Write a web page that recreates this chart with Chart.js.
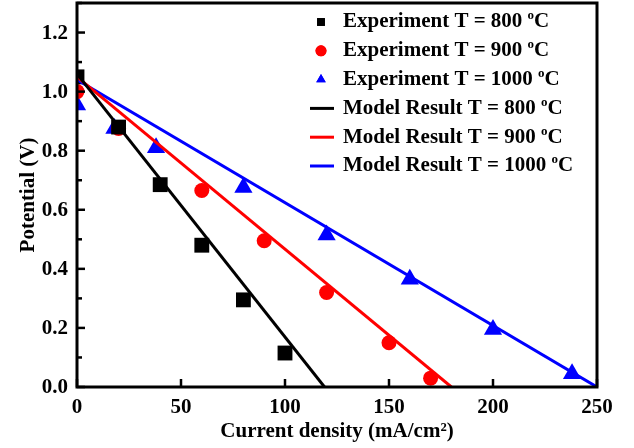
<!DOCTYPE html>
<html>
<head>
<meta charset="utf-8">
<script src="https://cdn.jsdelivr.net/npm/chart.js@4/dist/chart.umd.min.js"></script>
<style>
  html, body { margin: 0; padding: 0; background: #fff; }
  #wrap { width: 634px; height: 448px; }
</style>
</head>
<body>
<div id="wrap"><canvas id="polChart" width="634" height="448"></canvas></div>
<script>
// experimental points
const current800 = [0, 20, 40, 60, 80, 100];
const potential800 = [1.05, 0.88, 0.685, 0.48, 0.295, 0.115];
const current900 = [0, 20, 60, 90, 120, 150, 170];
const potential900 = [1.0, 0.875, 0.665, 0.495, 0.32, 0.15, 0.03];
const current1000 = [0, 18, 38, 80, 120, 160, 200, 238];
const potential1000 = [0.955, 0.875, 0.81, 0.675, 0.515, 0.365, 0.195, 0.045];

// model lines
const modelCurrent800 = [0, 119];
const modelPotential800 = [1.06, 0];
const modelCurrent900 = [0, 180];
const modelPotential900 = [1.05, 0];
const modelCurrent1000 = [0, 250];
const modelPotential1000 = [1.04, 0];

const temps = ['800', '900', '1000'];
const colors = ['#000000', '#ff0000', '#0000ff'];
const FONT = "'Liberation Serif', 'Times New Roman', serif";

function pts(xs, ys) {
    return xs.map((x, i) => ({ x: x, y: ys[i] }));
}

const expData = [pts(current800, potential800), pts(current900, potential900), pts(current1000, potential1000)];
const modelData = [pts(modelCurrent800, modelPotential800), pts(modelCurrent900, modelPotential900), pts(modelCurrent1000, modelPotential1000)];
const markerStyles = ['rect', 'circle', 'triangle'];
const markerRadius = [10.5, 7.5, 10.5];

const datasets = [];
temps.forEach((t, i) => {
    datasets.push({
        label: 'Experiment T = ' + t + ' oC',
        data: expData[i],
        showLine: false,
        pointStyle: markerStyles[i],
        pointRadius: markerRadius[i],
        pointHoverRadius: markerRadius[i],
        backgroundColor: colors[i],
        borderColor: colors[i],
        borderWidth: 0,
        order: 1
    });
});
temps.forEach((t, i) => {
    datasets.push({
        label: 'Model Result T = ' + t + ' oC',
        data: modelData[i],
        showLine: true,
        pointRadius: 0,
        borderColor: colors[i],
        backgroundColor: colors[i],
        borderWidth: 3,
        order: 0
    });
});

// frame, inward ticks, y labels and a legend with superscript "o"
const framePlugin = {
    id: 'frame',
    afterDraw(chart) {
        const ctx = chart.ctx;
        const a = chart.chartArea;
        ctx.save();
        ctx.strokeStyle = '#000';
        ctx.lineWidth = 3;
        ctx.strokeRect(a.left, a.top, a.right - a.left, a.bottom - a.top);

        ctx.lineWidth = 2.5;
        ctx.fillStyle = '#000';
        ctx.font = 'bold 21px ' + FONT;
        ctx.textAlign = 'right';
        ctx.textBaseline = 'middle';
        const ys = chart.scales.y;
        ys.ticks.forEach(tk => {
            const major = Math.round(tk.value * 10) % 2 === 0;
            const py = ys.getPixelForValue(tk.value);
            ctx.beginPath();
            ctx.moveTo(a.left, py);
            ctx.lineTo(a.left + (major ? 8 : 5), py);
            ctx.stroke();
            if (major) ctx.fillText(tk.value.toFixed(1), a.left - 9, py + 1);
        });
        ctx.textAlign = 'left';
        const xs = chart.scales.x;
        xs.ticks.forEach(tk => {
            const major = tk.value % 50 === 0;
            const px = xs.getPixelForValue(tk.value);
            ctx.beginPath();
            ctx.moveTo(px, a.bottom);
            ctx.lineTo(px, a.bottom - (major ? 8 : 5));
            ctx.stroke();
        });

        // legend
        const lx = a.left + 233;
        let ly = a.top + 19;
        const rowH = 28.8;
        chart.data.datasets.forEach((ds, i) => {
            const c = ds.borderColor;
            ctx.fillStyle = c;
            ctx.strokeStyle = c;
            if (ds.showLine) {
                ctx.lineWidth = 3;
                ctx.beginPath();
                ctx.moveTo(lx, ly);
                ctx.lineTo(lx + 24, ly);
                ctx.stroke();
            } else {
                Chart.helpers.drawPoint(ctx, { pointStyle: ds.pointStyle, radius: 5.5, borderWidth: 0 }, lx + 11, ly);
                ctx.fill();
            }
            const parts = ds.label.split(' oC');
            ctx.fillStyle = '#000';
            ctx.textBaseline = 'middle';
            ctx.font = 'bold 21px ' + FONT;
            let tx = lx + 33;
            ctx.fillText(parts[0] + ' ', tx, ly);
            tx += ctx.measureText(parts[0] + ' ').width;
            ctx.font = 'bold 13px ' + FONT;
            ctx.fillText('o', tx, ly - 6);
            tx += ctx.measureText('o').width;
            ctx.font = 'bold 21px ' + FONT;
            ctx.fillText('C', tx, ly);
            ly += rowH;
        });
        ctx.restore();
    }
};

new Chart(document.getElementById('polChart').getContext('2d'), {
    type: 'line',
    data: { datasets: datasets },
    options: {
        responsive: false,
        animation: false,
        layout: { autoPadding: false, padding: { left: 0, top: 3, right: 37, bottom: 0 } },
        plugins: {
            legend: { display: false },
            tooltip: { enabled: false }
        },
        scales: {
            x: {
                type: 'linear',
                min: 0,
                max: 250,
                grid: { display: false, drawTicks: false },
                border: { display: false },
                ticks: {
                    stepSize: 25,
                    padding: 8,
                    autoSkip: false,
                    maxRotation: 0,
                    color: '#000',
                    font: { family: FONT, size: 21, weight: 'bold' },
                    callback: v => (v % 50 === 0 ? String(v) : null)
                },
                title: {
                    display: true,
                    text: 'Current density (mA/cm²)',
                    color: '#000',
                    padding: { top: 0, bottom: 4 },
                    font: { family: FONT, size: 21, weight: 'bold' }
                },
                afterFit(scale) {
                    scale.height = 61;
                }
            },
            y: {
                min: 0,
                max: 1.3,
                grid: { display: false, drawTicks: false },
                border: { display: false },
                ticks: {
                    display: false,
                    stepSize: 0.1,
                    includeBounds: false
                },
                title: {
                    display: true,
                    text: 'Potential (V)',
                    color: '#000',
                    padding: { top: 16, bottom: 4 },
                    font: { family: FONT, size: 21, weight: 'bold' }
                },
                afterFit(scale) {
                    scale.width = 77;
                }
            }
        }
    },
    plugins: [framePlugin]
});
</script>
</body>
</html>
